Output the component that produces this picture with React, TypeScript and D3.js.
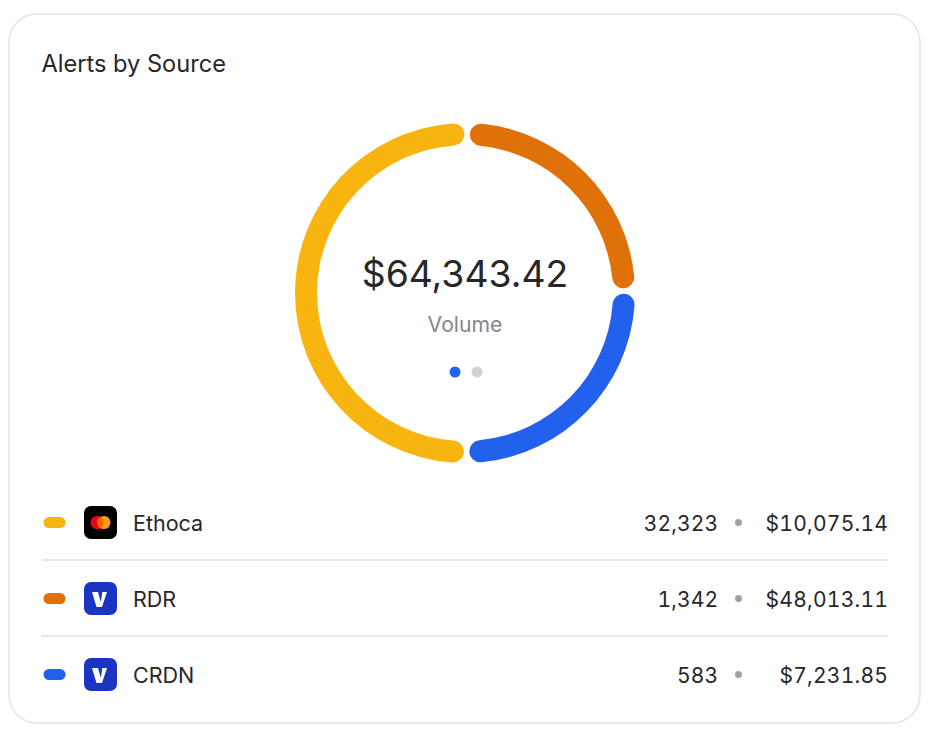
import React from "react";
import * as d3 from "d3";

const title = "Alerts by Source";
const centerValue = "$64,343.42";
const centerLabel = "Volume";
const categories = ["RDR", "CRDN", "Ethoca"];
const arcShares = [88.1, 89.8, 182.1];
const arcColors = ["#E07008", "#2260EE", "#F9B50F"];
const rowNames = ["Ethoca", "RDR", "CRDN"];
const rowColors = ["#F9B50F", "#E07008", "#2260EE"];
const rowCounts = ["32,323", "1,342", "583"];
const rowAmounts = ["$10,075.14", "$48,013.11", "$7,231.85"];
const rowIcons = ["mc", "v", "v"];

const FONT = "Inter, sans-serif";
const deg = Math.PI / 180;

function Icon({ kind, y }: { kind: string; y: number }) {
  const x = 100.5;
  if (kind === "mc") {
    return (
      <g>
        <rect x={x - 16.5} y={y - 17} width={33} height={33} rx={7} fill="#000" />
        <circle cx={x - 3.4} cy={y - 0.5} r={6.6} fill="#EB001B" />
        <circle cx={x + 3.4} cy={y - 0.5} r={6.6} fill="#F79E1B" />
        <path d={`M${x} ${y - 6.16}a6.6 6.6 0 0 1 0 11.32a6.6 6.6 0 0 1 0 -11.32z`} fill="#FF5F00" />
      </g>
    );
  }
  return (
    <g>
      <rect x={x - 16.5} y={y - 17} width={33} height={33} rx={7} fill="#1A35C4" />
      <path
        d={`M${x - 8.5} ${y - 7}H${x - 2.5}L${x + 0.3} ${y + 3}L${x + 1.8} ${y - 7}H${x + 6.5}L${x + 1.5} ${y + 8}H${x - 4}Z`}
        fill="#fff"
      />
    </g>
  );
}

export default function App() {
  const pie = d3
    .pie<number>()
    .sort(null)
    .startAngle(0.8 * deg)
    .endAngle(360.8 * deg)
    .padAngle(0.024);
  const arc = d3
    .arc<d3.PieArcDatum<number>>()
    .innerRadius(148)
    .outerRadius(170)
    .cornerRadius(11);
  const arcs = pie(arcShares);
  const rowY = d3.scalePoint<string>().domain(rowNames).range([523, 675]);
  const countStyle = { fontVariantNumeric: "tabular-nums", letterSpacing: "0.1px" } as const;
  const amountStyle = { fontVariantNumeric: "tabular-nums", letterSpacing: "0.25px" } as const;

  return (
    <svg
      width={936}
      height={732}
      viewBox="0 0 936 732"
      style={{ position: "absolute", left: 0, top: 0, display: "block", fontFamily: FONT }}
    >
      <rect x={9} y={14} width={911} height={709} rx={28} fill="#fff" stroke="#E4E4E7" strokeWidth={1.5} />
      <text x={41.5} y={72} fontSize={23.6} fontWeight={400} fill="#27272A">
        {title}
      </text>

      <g transform="translate(465,293)">
        {arcs.map((d, i) => (
          <path key={categories[i]} d={arc(d) ?? ""} fill={arcColors[i]} />
        ))}
        <text x={0} y={-6} textAnchor="middle" fontSize={37.3} fill="#27272A">
          {centerValue}
        </text>
        <text x={0} y={39} textAnchor="middle" fontSize={21.2} fill="#85858F">
          {centerLabel}
        </text>
        <circle cx={-10} cy={79} r={5.5} fill="#2260EE" />
        <circle cx={12} cy={79} r={5.5} fill="#D1D1D6" />
      </g>

      {rowNames.map((name, i) => {
        const y = rowY(name) as number;
        return (
          <g key={name}>
            <rect x={43.5} y={y - 6} width={22} height={11} rx={5.5} fill={rowColors[i]} />
            <Icon kind={rowIcons[i]} y={y} />
            <text x={133} y={y + 8} fontSize={21.5} fill="#27272A">
              {name}
            </text>
            <text x={718.2} y={y + 8} textAnchor="end" fontSize={21} fill="#27272A" style={countStyle}>
              {rowCounts[i]}
            </text>
            <circle cx={738.5} cy={y - 0.5} r={3.5} fill="#A1A1AA" />
            <text x={888.2} y={y + 8} textAnchor="end" fontSize={21} fill="#27272A" style={amountStyle}>
              {rowAmounts[i]}
            </text>
            {i < rowNames.length - 1 && (
              <line x1={41} x2={888} y1={y + 37} y2={y + 37} stroke="#E8E8EA" strokeWidth={2} />
            )}
          </g>
        );
      })}
    </svg>
  );
}
